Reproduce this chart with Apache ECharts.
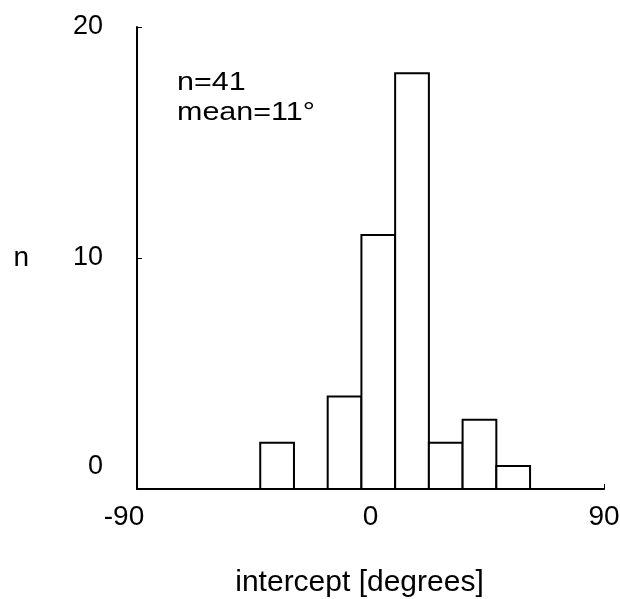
<!DOCTYPE html>
<html>
<head>
<meta charset="utf-8">
<script src="https://cdn.jsdelivr.net/npm/echarts@6/dist/echarts.min.js"></script>
<style>html,body{margin:0;padding:0;background:#fff;}#c{width:620px;height:599px;}</style>
</head>
<body>
<div id="c"></div>
<script>
const binCenters = [-36, -23, -10, 3, 16, 29, 42, 55];
const counts = [2, 0, 4, 11, 18, 2, 3, 1];
const binWidth = 13;
const xTicks = [-90, 0, 90];
const yTicks = [0, 10, 20];
const annotation = ['n=41', 'mean=11°'];

const FONT = 'Liberation Sans, Arial, sans-serif';
const chart = echarts.init(document.getElementById('c'));
const data = binCenters.map((c, i) => [c - binWidth / 2, c + binWidth / 2, counts[i]]);

chart.setOption({
  animation: false,
  backgroundColor: '#fff',
  graphic: [{
    type: 'text',
    left: 177,
    top: 68,
    scaleX: 1.22,
    style: {
      text: annotation.join('\n'),
      font: '25px ' + FONT,
      lineHeight: 30,
      fill: '#000'
    }
  }],
  grid: { left: 137, right: 16, top: 27, bottom: 110, containLabel: false, outerBoundsMode: 'none' },
  xAxis: {
    type: 'value',
    min: -90, max: 90, interval: 90,
    name: 'intercept [degrees]',
    nameLocation: 'middle',
    nameGap: 79,
    nameTextStyle: { fontFamily: FONT, fontSize: 30, color: '#000', padding: [0, 22, 0, 0] },
    axisLine: { show: true, onZero: false, lineStyle: { color: '#000', width: 2 } },
    axisTick: { show: true, inside: true, length: 5, lineStyle: { color: '#000', width: 1 } },
    axisLabel: {
      fontFamily: FONT, fontSize: 28, color: '#000', margin: 14,
      formatter: v => v === xTicks[0] ? '{l|' + v + '}' : String(v),
      rich: { l: { fontFamily: FONT, fontSize: 28, color: '#000', padding: [0, 26, 0, 0] } },
      showMinLabel: true, showMaxLabel: true
    },
    splitLine: { show: false }
  },
  yAxis: {
    type: 'value',
    min: 0, max: 20, interval: 10,
    name: 'n',
    nameLocation: 'middle',
    nameRotate: 0,
    nameGap: 108,
    nameTextStyle: { fontFamily: FONT, fontSize: 28, color: '#000' },
    axisLine: { show: true, onZero: false, lineStyle: { color: '#000', width: 2 } },
    axisTick: { show: true, inside: true, length: 5, lineStyle: { color: '#000', width: 1 } },
    axisLabel: {
      fontFamily: FONT, fontSize: 27, color: '#000', margin: 34,
      formatter: v => v === yTicks[0] ? '{z|' + v + '}' : String(v),
      rich: { z: { fontFamily: FONT, fontSize: 27, color: '#000', padding: [0, 0, 44, 0] } }
    },
    splitLine: { show: false }
  },
  series: [{
    type: 'custom',
    data: data,
    encode: { x: [0, 1], y: 2 },
    renderItem: (params, api) => {
      if (api.value(2) <= 0) return null;
      const p0 = api.coord([api.value(0), 0]);
      const p1 = api.coord([api.value(1), api.value(2)]);
      return {
        type: 'rect',
        shape: { x: p0[0], y: p1[1], width: p1[0] - p0[0], height: p0[1] - p1[1] },
        style: { fill: '#fff', stroke: '#000', lineWidth: 2 }
      };
    }
  }]
});
</script>
</body>
</html>
